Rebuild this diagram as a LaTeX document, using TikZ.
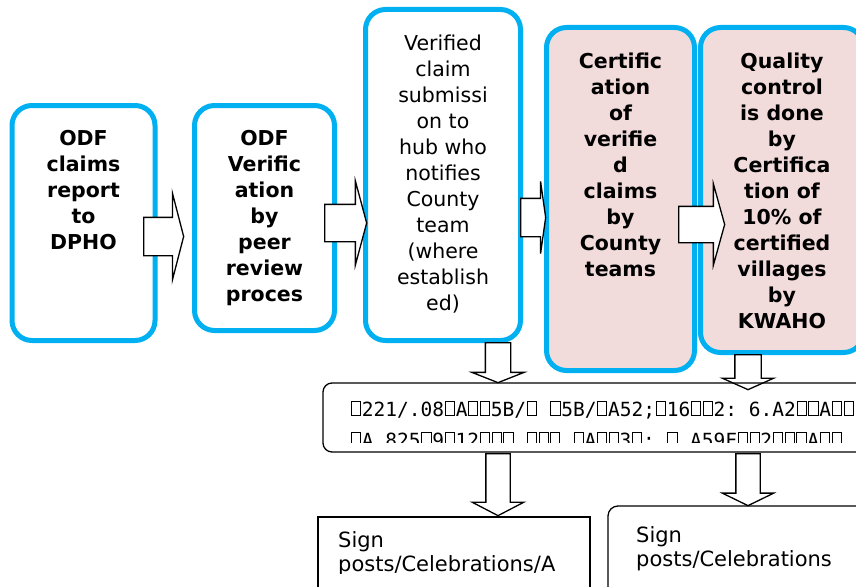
\documentclass[tikz,border=0pt]{standalone}
\usepackage{fontspec}
\setmainfont{DejaVu Sans}
\setmonofont{DejaVu Sans Mono}
\usetikzlibrary{positioning, shapes.arrows}

\definecolor{boxblue}{RGB}{0,176,240}
\definecolor{boxpink}{RGB}{242,220,219}

% empty glyph box
\newcommand{\nd}{\hbox to .6em{\hss\vrule width .05em\vbox to .75em{\hrule height .05em width .42em\vfil\hrule height .05em}\vrule width .05em\hss}}

\begin{document}
\begin{tikzpicture}[x=1pt, y=-1pt,
    stepbox/.style={draw=boxblue, line width=5pt, rounded corners=20pt, fill=white, outer sep=0pt},
    certbox/.style={stepbox, fill=boxpink},
    steptext/.style={align=center, inner sep=0pt, font=\fontsize{20.5}{26}\selectfont},
    boldtext/.style={align=center, inner sep=0pt, font=\fontsize{20.5}{26}\selectfont\bfseries},
    blockarrow/.style={single arrow, draw, fill=white, line width=1.3pt, inner xsep=0pt,
        single arrow head indent=0pt, anchor=tail},
    downarrow/.style={blockarrow, rotate=-90},
    notebox/.style={draw, line width=1.3pt, outer sep=0pt},
    signtext/.style={align=left, inner sep=0pt, anchor=north west, font=\fontsize{21}{24}\selectfont},
    codetext/.style={inner sep=0pt, anchor=base west, font=\ttfamily\fontsize{19.5}{25}\selectfont}]
    \useasboundingbox (0,0) rectangle (856,586);
    \clip (0,0) rectangle (856,586);

    % Process boxes
    \node[stepbox, minimum width=143pt, minimum height=235pt] (report) at (83.5,223) {};
    \node[stepbox, minimum width=140pt, minimum height=225pt] (verify) at (264.5,218) {};
    \node[stepbox, minimum width=155pt, minimum height=331pt] (submit) at (443,175) {};
    \node[certbox, minimum width=148pt, minimum height=343pt] (certify) at (620.5,199) {};
    \node[certbox, minimum width=163pt, minimum height=325pt] (quality) at (782,190) {};

    % Arrows between the boxes
    \node[blockarrow, minimum height=40pt, inner ysep=18.5pt, single arrow head extend=24pt,
        single arrow tip angle=151] (arr1) at (143,236.5) {};
    \node[blockarrow, minimum height=42pt, inner ysep=18pt, single arrow head extend=23.5pt,
        single arrow tip angle=150] (arr2) at (324,223) {};
    \node[blockarrow, minimum height=25pt, inner ysep=18.5pt, single arrow head extend=17pt,
        single arrow tip angle=164] (arr3) at (520,217.5) {};
    \node[blockarrow, minimum height=46pt, inner ysep=17.5pt, single arrow head extend=22.5pt,
        single arrow tip angle=149] (arr4) at (678,224.5) {};

    % Arrows down to the hub note
    \node[downarrow, minimum height=40pt, inner ysep=12pt, single arrow head extend=13.5pt,
        single arrow tip angle=137] (down1) at (498,342) {};
    \node[downarrow, minimum height=35pt, inner ysep=12.5pt, single arrow head extend=12.5pt,
        single arrow tip angle=132] (down2) at (748,354) {};

    % Arrows down to the sign posts
    \node[downarrow, minimum height=62pt, inner ysep=11.5pt, single arrow head extend=13.5pt,
        single arrow tip angle=125] (down3) at (498,453) {};
    \node[downarrow, minimum height=52pt, inner ysep=11.5pt, single arrow head extend=13.5pt,
        single arrow tip angle=128] (down4) at (748,453) {};

    % Hub note and sign post boxes
    \node[notebox, rounded corners=9pt, minimum width=560pt, minimum height=69pt] (hub) at (603,417.5) {};
    \node[notebox, minimum width=272pt, minimum height=84pt] (signA) at (454,559) {};
    \node[notebox, rounded corners=10pt, minimum width=272pt, minimum height=94pt] (signB) at (744,553) {};

    % Box texts
    \node[boldtext, below=25pt of report.north] (reporttext) {ODF\\claims\\report\\to\\DPHO};
    \node[boldtext, below=25pt of verify.north] (verifytext) {ODF\\Verific\\ation\\by\\peer\\review\\proces};
    \node[steptext, below=25pt of submit.north] (submittext) {Verified\\claim\\submissi\\on to\\hub who\\notifies\\County\\team\\(where\\establish\\ed)};
    \node[boldtext, below=25pt of certify.north] (certifytext) {Certific\\ation\\of\\verifie\\d\\claims\\by\\County\\teams};
    \node[boldtext, below=25pt of quality.north] (qualitytext) {Quality\\control\\is done\\by\\Certifica\\tion of\\10\% of\\certified\\villages\\by\\KWAHO};

    % Hub note text
    \begin{scope}
        \clip (330,386) rectangle (856,442);
        \node[codetext] (hubA) at (350,416) {\nd 221/.08\nd A\nd\nd 5B/\nd\ \nd 5B/\nd A52;\nd 16\nd\nd 2:\ 6.A2\nd\nd A\nd\nd};
        \node[codetext] (hubB) at (350,447) {\nd A.825\nd 9\nd 12\nd\nd\nd\ \nd\nd\nd\ \nd A\nd\nd 3\nd:\ \nd\ A59F\nd\nd 2\nd\nd\nd A\nd\nd};
    \end{scope}

    % Sign post texts
    \begin{scope}
        \clip (320,519) rectangle (588,573);
        \node[signtext] (signAtext) at (338,531) {Sign\\posts/Celebrations/A};
    \end{scope}
    \node[signtext] (signBtext) at (636,526) {Sign\\posts/Celebrations};
\end{tikzpicture}
\end{document}
